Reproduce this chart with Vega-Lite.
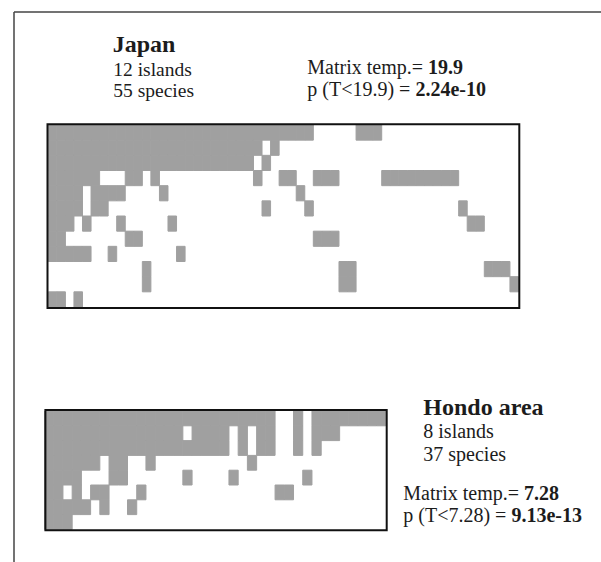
{
"$schema": "https://vega.github.io/schema/vega-lite/v6.json",
"width": 601, "height": 562,
"autosize": {"type": "fit", "contains": "padding"},
"padding": 0,
"background": "white",
"config": {"view": {"stroke": null}},
"datasets": {
"japan": [
{"island":0,"species":0},{"island":0,"species":1},{"island":0,"species":2},{"island":0,"species":3},{"island":0,"species":4},{"island":0,"species":5},{"island":0,"species":6},{"island":0,"species":7},{"island":0,"species":8},{"island":0,"species":9},{"island":0,"species":10},{"island":0,"species":11},{"island":0,"species":12},{"island":0,"species":13},{"island":0,"species":14},{"island":0,"species":15},{"island":0,"species":16},{"island":0,"species":17},{"island":0,"species":18},{"island":0,"species":19},{"island":0,"species":20},{"island":0,"species":21},{"island":0,"species":22},{"island":0,"species":23},{"island":0,"species":24},{"island":0,"species":25},{"island":0,"species":26},{"island":0,"species":27},{"island":0,"species":28},{"island":0,"species":29},{"island":0,"species":30},{"island":0,"species":36},{"island":0,"species":37},{"island":0,"species":38},
{"island":1,"species":0},{"island":1,"species":1},{"island":1,"species":2},{"island":1,"species":3},{"island":1,"species":4},{"island":1,"species":5},{"island":1,"species":6},{"island":1,"species":7},{"island":1,"species":8},{"island":1,"species":9},{"island":1,"species":10},{"island":1,"species":11},{"island":1,"species":12},{"island":1,"species":13},{"island":1,"species":14},{"island":1,"species":15},{"island":1,"species":16},{"island":1,"species":17},{"island":1,"species":18},{"island":1,"species":19},{"island":1,"species":20},{"island":1,"species":21},{"island":1,"species":22},{"island":1,"species":23},{"island":1,"species":24},{"island":1,"species":26},
{"island":2,"species":0},{"island":2,"species":1},{"island":2,"species":2},{"island":2,"species":3},{"island":2,"species":4},{"island":2,"species":5},{"island":2,"species":6},{"island":2,"species":7},{"island":2,"species":8},{"island":2,"species":9},{"island":2,"species":10},{"island":2,"species":11},{"island":2,"species":12},{"island":2,"species":13},{"island":2,"species":14},{"island":2,"species":15},{"island":2,"species":16},{"island":2,"species":17},{"island":2,"species":18},{"island":2,"species":19},{"island":2,"species":20},{"island":2,"species":21},{"island":2,"species":22},{"island":2,"species":23},{"island":2,"species":25},
{"island":3,"species":0},{"island":3,"species":1},{"island":3,"species":2},{"island":3,"species":3},{"island":3,"species":4},{"island":3,"species":5},{"island":3,"species":9},{"island":3,"species":10},{"island":3,"species":12},{"island":3,"species":24},{"island":3,"species":27},{"island":3,"species":28},{"island":3,"species":31},{"island":3,"species":32},{"island":3,"species":33},{"island":3,"species":39},{"island":3,"species":40},{"island":3,"species":41},{"island":3,"species":42},{"island":3,"species":43},{"island":3,"species":44},{"island":3,"species":45},{"island":3,"species":46},{"island":3,"species":47},
{"island":4,"species":0},{"island":4,"species":1},{"island":4,"species":2},{"island":4,"species":3},{"island":4,"species":5},{"island":4,"species":6},{"island":4,"species":7},{"island":4,"species":8},{"island":4,"species":13},{"island":4,"species":29},
{"island":5,"species":0},{"island":5,"species":1},{"island":5,"species":2},{"island":5,"species":3},{"island":5,"species":5},{"island":5,"species":6},{"island":5,"species":25},{"island":5,"species":30},{"island":5,"species":48},
{"island":6,"species":0},{"island":6,"species":1},{"island":6,"species":2},{"island":6,"species":4},{"island":6,"species":8},{"island":6,"species":14},{"island":6,"species":49},{"island":6,"species":50},
{"island":7,"species":0},{"island":7,"species":1},{"island":7,"species":9},{"island":7,"species":10},{"island":7,"species":31},{"island":7,"species":32},{"island":7,"species":33},
{"island":8,"species":0},{"island":8,"species":1},{"island":8,"species":2},{"island":8,"species":3},{"island":8,"species":4},{"island":8,"species":7},{"island":8,"species":15},
{"island":9,"species":11},{"island":9,"species":34},{"island":9,"species":35},{"island":9,"species":51},{"island":9,"species":52},{"island":9,"species":53},
{"island":10,"species":11},{"island":10,"species":34},{"island":10,"species":35},{"island":10,"species":54},
{"island":11,"species":0},{"island":11,"species":1},{"island":11,"species":3}
],
"hondo": [
{"island":0,"species":0},{"island":0,"species":1},{"island":0,"species":2},{"island":0,"species":3},{"island":0,"species":4},{"island":0,"species":5},{"island":0,"species":6},{"island":0,"species":7},{"island":0,"species":8},{"island":0,"species":9},{"island":0,"species":10},{"island":0,"species":11},{"island":0,"species":12},{"island":0,"species":13},{"island":0,"species":14},{"island":0,"species":15},{"island":0,"species":16},{"island":0,"species":17},{"island":0,"species":18},{"island":0,"species":19},{"island":0,"species":20},{"island":0,"species":21},{"island":0,"species":22},{"island":0,"species":23},{"island":0,"species":24},{"island":0,"species":27},{"island":0,"species":29},{"island":0,"species":30},{"island":0,"species":31},{"island":0,"species":32},{"island":0,"species":33},{"island":0,"species":34},{"island":0,"species":35},{"island":0,"species":36},
{"island":1,"species":0},{"island":1,"species":1},{"island":1,"species":2},{"island":1,"species":3},{"island":1,"species":4},{"island":1,"species":5},{"island":1,"species":6},{"island":1,"species":7},{"island":1,"species":8},{"island":1,"species":9},{"island":1,"species":10},{"island":1,"species":11},{"island":1,"species":12},{"island":1,"species":13},{"island":1,"species":14},{"island":1,"species":16},{"island":1,"species":17},{"island":1,"species":18},{"island":1,"species":19},{"island":1,"species":21},{"island":1,"species":23},{"island":1,"species":24},{"island":1,"species":27},{"island":1,"species":29},{"island":1,"species":30},{"island":1,"species":31},
{"island":2,"species":0},{"island":2,"species":1},{"island":2,"species":2},{"island":2,"species":3},{"island":2,"species":4},{"island":2,"species":5},{"island":2,"species":6},{"island":2,"species":7},{"island":2,"species":8},{"island":2,"species":9},{"island":2,"species":10},{"island":2,"species":11},{"island":2,"species":12},{"island":2,"species":13},{"island":2,"species":14},{"island":2,"species":15},{"island":2,"species":16},{"island":2,"species":17},{"island":2,"species":18},{"island":2,"species":19},{"island":2,"species":21},{"island":2,"species":23},{"island":2,"species":24},{"island":2,"species":27},{"island":2,"species":29},
{"island":3,"species":0},{"island":3,"species":1},{"island":3,"species":2},{"island":3,"species":3},{"island":3,"species":4},{"island":3,"species":5},{"island":3,"species":7},{"island":3,"species":8},{"island":3,"species":11},{"island":3,"species":22},
{"island":4,"species":0},{"island":4,"species":1},{"island":4,"species":2},{"island":4,"species":3},{"island":4,"species":7},{"island":4,"species":8},{"island":4,"species":15},{"island":4,"species":20},{"island":4,"species":28},
{"island":5,"species":0},{"island":5,"species":1},{"island":5,"species":3},{"island":5,"species":5},{"island":5,"species":6},{"island":5,"species":10},{"island":5,"species":25},{"island":5,"species":26},
{"island":6,"species":0},{"island":6,"species":1},{"island":6,"species":2},{"island":6,"species":3},{"island":6,"species":4},{"island":6,"species":6},{"island":6,"species":9},
{"island":7,"species":0},{"island":7,"species":1},{"island":7,"species":2}
]
},
"layer": [
{"data": {"values": [{}]}, "mark": {"type": "rule", "color": "#444444", "strokeWidth": 1.5}, "encoding": {"x": {"value": 14}, "x2": {"value": 601}, "y": {"value": 12}}},
{"data": {"values": [{}]}, "mark": {"type": "rule", "color": "#444444", "strokeWidth": 1.5}, "encoding": {"x": {"value": 14}, "y": {"value": 12}, "y2": {"value": 562}}},
{"data": {"name": "japan"}, "mark": {"type": "rect", "color": "#a0a0a0", "stroke": "#a0a0a0", "strokeWidth": 1},
 "encoding": {
  "x": {"field": "species", "type": "ordinal", "axis": null, "scale": {"domain": [0,1,2,3,4,5,6,7,8,9,10,11,12,13,14,15,16,17,18,19,20,21,22,23,24,25,26,27,28,29,30,31,32,33,34,35,36,37,38,39,40,41,42,43,44,45,46,47,48,49,50,51,52,53,54], "range": [48.3, 518.5], "paddingInner": 0, "paddingOuter": 0}},
  "y": {"field": "island", "type": "ordinal", "axis": null, "scale": {"domain": [0,1,2,3,4,5,6,7,8,9,10,11], "range": [125, 307], "paddingInner": 0, "paddingOuter": 0}}
 }},
{"data": {"name": "hondo"}, "mark": {"type": "rect", "color": "#a0a0a0", "stroke": "#a0a0a0", "strokeWidth": 1},
 "encoding": {
  "x": {"field": "species", "type": "ordinal", "axis": null, "scale": {"domain": [0,1,2,3,4,5,6,7,8,9,10,11,12,13,14,15,16,17,18,19,20,21,22,23,24,25,26,27,28,29,30,31,32,33,34,35,36], "range": [44.5, 385.75], "paddingInner": 0, "paddingOuter": 0}},
  "y": {"field": "island", "type": "ordinal", "axis": null, "scale": {"domain": [0,1,2,3,4,5,6,7], "range": [411, 529.4], "paddingInner": 0, "paddingOuter": 0}}
 }},
{"data": {"values": [{}]}, "mark": {"type": "rect", "filled": false, "color": "#111111", "strokeWidth": 2}, "encoding": {"x": {"value": 47.5}, "x2": {"value": 519.3}, "y": {"value": 124.2}, "y2": {"value": 307.9}}},
{"data": {"values": [{}]}, "mark": {"type": "rect", "filled": false, "color": "#111111", "strokeWidth": 2}, "encoding": {"x": {"value": 45.4}, "x2": {"value": 386.7}, "y": {"value": 410}, "y2": {"value": 530.3}}},
{"data": {"values": [{}]}, "mark": {"type": "text", "text": "Japan", "font": "Liberation Serif", "fontSize": 24, "fontWeight": "bold", "align": "left", "baseline": "alphabetic", "color": "#1c1c1c"}, "encoding": {"x": {"value": 112.7}, "y": {"value": 51.7}}},
{"data": {"values": [{}]}, "mark": {"type": "text", "text": "12 islands", "font": "Liberation Serif", "fontSize": 19.5, "align": "left", "baseline": "alphabetic", "color": "#1c1c1c"}, "encoding": {"x": {"value": 113.3}, "y": {"value": 75.7}}},
{"data": {"values": [{}]}, "mark": {"type": "text", "text": "55 species", "font": "Liberation Serif", "fontSize": 19.5, "align": "left", "baseline": "alphabetic", "color": "#1c1c1c"}, "encoding": {"x": {"value": 113.3}, "y": {"value": 96.7}}},
{"data": {"values": [{}]}, "mark": {"type": "text", "text": "Matrix temp.=", "font": "Liberation Serif", "fontSize": 20, "align": "left", "baseline": "alphabetic", "color": "#1c1c1c"}, "encoding": {"x": {"value": 307.3}, "y": {"value": 74.3}}},
{"data": {"values": [{}]}, "mark": {"type": "text", "text": "19.9", "font": "Liberation Serif", "fontSize": 20, "fontWeight": "bold", "align": "left", "baseline": "alphabetic", "color": "#1c1c1c"}, "encoding": {"x": {"value": 428}, "y": {"value": 74.3}}},
{"data": {"values": [{}]}, "mark": {"type": "text", "text": "p (T<19.9) =", "font": "Liberation Serif", "fontSize": 20, "align": "left", "baseline": "alphabetic", "color": "#1c1c1c"}, "encoding": {"x": {"value": 307.3}, "y": {"value": 95.7}}},
{"data": {"values": [{}]}, "mark": {"type": "text", "text": "2.24e-10", "font": "Liberation Serif", "fontSize": 20, "fontWeight": "bold", "align": "left", "baseline": "alphabetic", "color": "#1c1c1c"}, "encoding": {"x": {"value": 415.4}, "y": {"value": 95.7}}},
{"data": {"values": [{}]}, "mark": {"type": "text", "text": "Hondo area", "font": "Liberation Serif", "fontSize": 24, "fontWeight": "bold", "align": "left", "baseline": "alphabetic", "color": "#1c1c1c"}, "encoding": {"x": {"value": 423.3}, "y": {"value": 415}}},
{"data": {"values": [{}]}, "mark": {"type": "text", "text": "8 islands", "font": "Liberation Serif", "fontSize": 20, "align": "left", "baseline": "alphabetic", "color": "#1c1c1c"}, "encoding": {"x": {"value": 423.3}, "y": {"value": 438.3}}},
{"data": {"values": [{}]}, "mark": {"type": "text", "text": "37 species", "font": "Liberation Serif", "fontSize": 20, "align": "left", "baseline": "alphabetic", "color": "#1c1c1c"}, "encoding": {"x": {"value": 423.3}, "y": {"value": 460.5}}},
{"data": {"values": [{}]}, "mark": {"type": "text", "text": "Matrix temp.=", "font": "Liberation Serif", "fontSize": 20, "align": "left", "baseline": "alphabetic", "color": "#1c1c1c"}, "encoding": {"x": {"value": 403.3}, "y": {"value": 500}}},
{"data": {"values": [{}]}, "mark": {"type": "text", "text": "7.28", "font": "Liberation Serif", "fontSize": 20, "fontWeight": "bold", "align": "left", "baseline": "alphabetic", "color": "#1c1c1c"}, "encoding": {"x": {"value": 524}, "y": {"value": 500}}},
{"data": {"values": [{}]}, "mark": {"type": "text", "text": "p (T<7.28) =", "font": "Liberation Serif", "fontSize": 20, "align": "left", "baseline": "alphabetic", "color": "#1c1c1c"}, "encoding": {"x": {"value": 403.3}, "y": {"value": 521.7}}},
{"data": {"values": [{}]}, "mark": {"type": "text", "text": "9.13e-13", "font": "Liberation Serif", "fontSize": 20, "fontWeight": "bold", "align": "left", "baseline": "alphabetic", "color": "#1c1c1c"}, "encoding": {"x": {"value": 511.4}, "y": {"value": 521.7}}}
],
"resolve": {"scale": {"x": "independent", "y": "independent"}}
}
